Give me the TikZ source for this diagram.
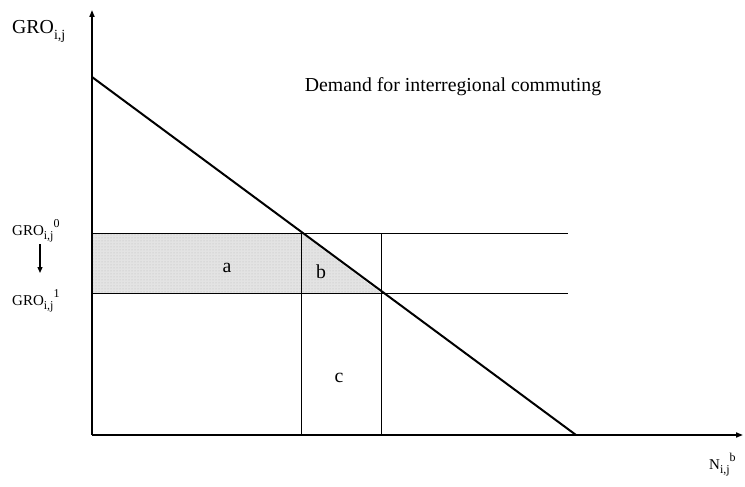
\documentclass[tikz,border=0pt]{standalone}
\usepackage{fontspec}
\setmainfont{Liberation Serif}
\usetikzlibrary{arrows.meta,patterns}
\newcommand{\mysub}[1]{\raisebox{-0.3em}{\fontsize{12}{13}\selectfont #1}}
\newcommand{\mysup}[1]{\raisebox{0.5em}{\fontsize{12}{13}\selectfont #1}}
\begin{document}
\begin{tikzpicture}[x=1pt,y=-1pt,
  axis/.style={line width=1.6pt,-{Triangle[length=7pt,width=5pt]}},
  thin/.style={line width=0.8pt},
  demand/.style={line width=2pt},
  lbl/.style={font=\fontsize{19.8}{23}\selectfont,inner sep=0pt},
  sm/.style={font=\fontsize{15}{18}\selectfont,inner sep=0pt}]
\useasboundingbox (0,0) rectangle (745,487);
\coordinate (O) at (92,435);
\coordinate (Ytop) at (92,10);
\coordinate (Xend) at (743,435);
\coordinate (D0) at (92,77);
\coordinate (D1) at (576,435);
\coordinate (H0l) at (92,233);
\coordinate (H0r) at (568,233);
\coordinate (H1l) at (92,293);
\coordinate (H1r) at (568,293);
\coordinate (P) at (301,233);
\coordinate (Pb) at (301,435);
\coordinate (Q) at (381,293);
\coordinate (Qt) at (381,233);
\coordinate (Qb) at (381,435);
\fill[gray!22] (H0l) -- (P) -- (Q) -- (H1l) -- cycle;
\fill[pattern=dots,pattern color=gray!55] (H0l) -- (P) -- (Q) -- (H1l) -- cycle;
\draw[thin] (H0l) -- (H0r);
\draw[thin] (H1l) -- (H1r);
\draw[thin] (P) -- (Pb);
\draw[thin] (Qt) -- (Qb);
\draw[demand] (D0) -- (D1);
\draw[axis] (O) -- (Ytop);
\draw[axis] (O) -- (Xend);
\node[lbl,anchor=west] (ylab) at (12,31) {GRO\mysub{\fontsize{14}{15}\selectfont i,j}};
\node[sm,anchor=west] (g0) at (12,231) {GRO\mysub{i,j}\mysup{0}};
\node[sm,anchor=west] (g1) at (12,301) {GRO\mysub{i,j}\mysup{1}};
\coordinate (ga) at (40,244);
\coordinate (gb) at (40,273);
\draw[line width=1.3pt,-{Triangle[length=6pt,width=5pt]}] (ga) -- (gb);
\node[sm,anchor=west] (xlab) at (709,465) {N\mysub{i,j}\mysup{b}};
\node[lbl] (dem) at (453,87) {Demand for interregional commuting};
\node[lbl] (a) at (227,268) {a};
\node[lbl] (b) at (321,272) {b};
\node[lbl] (c) at (339,378) {c};
\end{tikzpicture}
\end{document}
